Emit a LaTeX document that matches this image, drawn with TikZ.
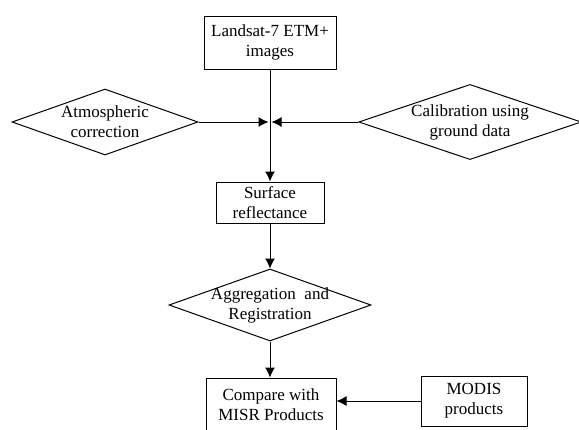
\documentclass[tikz,border=0pt]{standalone}
\usepackage{fontspec}
\setmainfont{Liberation Serif}
\usetikzlibrary{arrows.meta,positioning,shapes.geometric,calc}
\tikzset{
  boxnode/.style={draw=black,line width=1pt,rectangle,align=center,inner sep=0pt,
    font=\fontsize{17}{20}\selectfont},
  decnode/.style={draw=black,line width=1pt,diamond,align=center,inner sep=0pt,
    font=\fontsize{17}{20}\selectfont},
  flow/.style={draw=black,line width=1pt,-{Latex[length=10pt,width=10pt]}}
}
\begin{document}
\begin{tikzpicture}[x=1pt,y=-1pt]
\useasboundingbox (0,0) rectangle (579,429);
\clip (0,0) rectangle (579,429);
% boxes
\node[boxnode,minimum width=132pt,minimum height=53pt] (landsat) at (270,42.5) {Landsat-7 ETM+\\images};
\node[boxnode,minimum width=108pt,minimum height=41pt] (surface) at (270,202.5) {Surface\\reflectance};
\node[boxnode,minimum width=130pt,minimum height=54pt] (compare) at (271,405) {Compare with\\MISR Products};
\node[boxnode,minimum width=106pt,minimum height=50pt] (modis) at (474,401) {MODIS\\products};
% diamonds
\node[decnode,aspect=2.82,minimum width=186pt,minimum height=66pt] (atmos) at (105,122) {Atmospheric\\correction};
\node[decnode,aspect=2.96,minimum width=216pt,minimum height=73pt] (calib) at (470,122) {Calibration using\\ground data};
\node[decnode,aspect=2.8,minimum width=202pt,minimum height=72pt] (aggreg) at (270,305)
  {\makebox[80pt][c]{Aggregation\ \ and}\\\makebox[80pt][c]{Registration}};
\coordinate (mid) at (270,122);
% connectors
\draw[flow] (landsat.south) -- (surface.north);
\draw[flow,shorten >=1.5pt] (atmos.east) -- (mid);
\draw[flow,shorten >=1.5pt] (calib.west) -- (mid);
\draw[flow] (surface.south) -- (aggreg.north);
\draw[flow] (aggreg.south) -- (aggreg.south |- compare.north);
\draw[flow] (modis.west) -- (modis.west -| compare.east);
\end{tikzpicture}
\end{document}
